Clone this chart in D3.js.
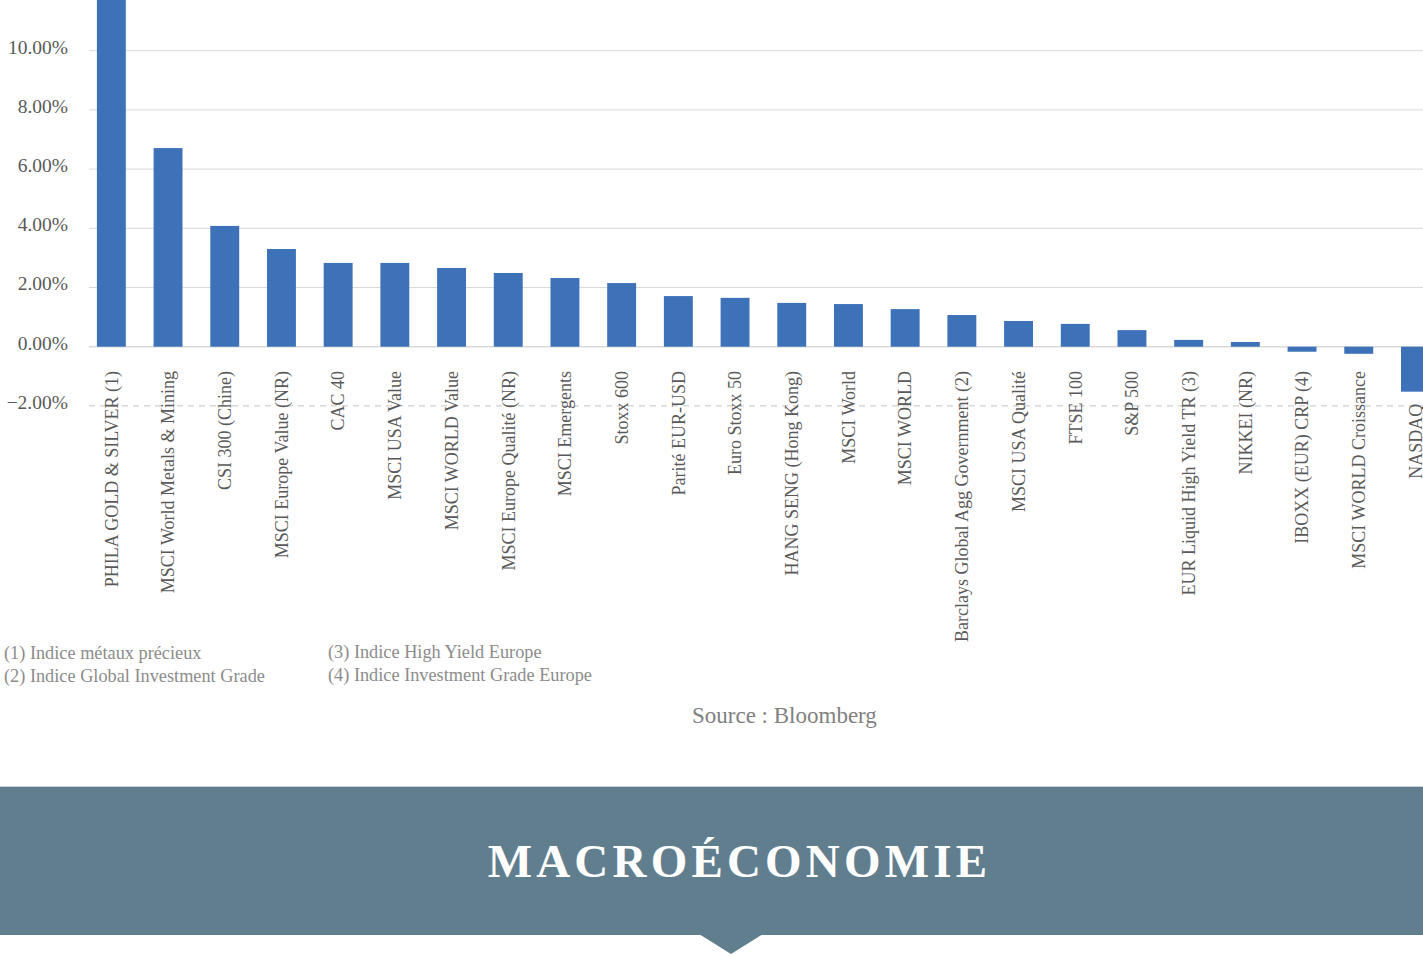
<!DOCTYPE html>
<html>
<head>
<meta charset="utf-8">
<script src="https://cdn.jsdelivr.net/npm/d3@7"></script>
<style>
  body { margin: 0; background: #fff; }
  svg { display: block; }
</style>
</head>
<body>
<svg id="chart" width="1423" height="956"></svg>
<script>
// categories and performance (%)
var categories = [
  "PHILA GOLD & SILVER (1)", "MSCI World Metals & Mining", "CSI 300 (Chine)",
  "MSCI Europe Value (NR)", "CAC 40", "MSCI  USA  Value", "MSCI WORLD Value",
  "MSCI Europe Qualité (NR)", "MSCI Emergents", "Stoxx 600", "Parité EUR-USD",
  "Euro Stoxx 50", "HANG SENG (Hong Kong)", "MSCI World", "MSCI WORLD",
  "Barclays Global Agg Government (2)", "MSCI USA Qualité", "FTSE 100", "S&P 500",
  "EUR Liquid High Yield TR (3)", "NIKKEI (NR)", "IBOXX (EUR) CRP (4)",
  "MSCI WORLD Croissance", "NASDAQ"
];
var values = [
  14.0, 6.71, 4.08, 3.30, 2.83, 2.83, 2.66, 2.49, 2.32, 2.15, 1.71, 1.65,
  1.48, 1.44, 1.27, 1.07, 0.87, 0.77, 0.56, 0.23, 0.16, -0.17, -0.24, -1.52
];
var yTicks = [-2, 0, 2, 4, 6, 8, 10];
var notesLeft = ["(1) Indice métaux précieux", "(2) Indice Global Investment Grade"];
var notesRight = ["(3) Indice High Yield Europe", "(4) Indice Investment Grade Europe"];
var source = "Source : Bloomberg";
var title = "MACROÉCONOMIE";

var svg = d3.select("#chart");
var serif = "'Liberation Serif', 'DejaVu Serif', serif";

var x = d3.scaleBand()
    .domain(categories)
    .range([83, 83 + 56.7 * categories.length])
    .paddingInner(0.49)
    .paddingOuter(0.245);

var y = d3.scaleLinear()
    .domain([0, 10])
    .range([346.7, 50.7]);

var chart = svg.append("g");

// gridlines
chart.selectAll("line.grid")
    .data(yTicks)
    .enter().append("line")
    .attr("class", "grid")
    .attr("x1", 89)
    .attr("x2", 1423)
    .attr("y1", function(d) { return y(d); })
    .attr("y2", function(d) { return y(d); })
    .attr("stroke", function(d) { return d < 0 ? "#c4c4c4" : "#d9d9d9"; })
    .attr("stroke-width", function(d) { return d === 0 ? 1.5 : 1; })
    .attr("stroke-dasharray", function(d) { return d < 0 ? "6,5" : null; });

// y tick labels
chart.selectAll("text.ytick")
    .data(yTicks)
    .enter().append("text")
    .attr("class", "ytick")
    .attr("x", 68)
    .attr("y", function(d) { return y(d) - 4; })
    .attr("dy", "0.35em")
    .attr("text-anchor", "end")
    .attr("font-family", serif)
    .attr("font-size", 19.5)
    .attr("fill", "#595959")
    .text(function(d) { return d3.format(".2f")(d) + "%"; });

// bars
chart.selectAll("rect.bar")
    .data(values)
    .enter().append("rect")
    .attr("class", "bar")
    .attr("x", function(d, i) { return x(categories[i]); })
    .attr("width", x.bandwidth())
    .attr("y", function(d) { return y(Math.max(0, d)); })
    .attr("height", function(d) { return Math.abs(y(d) - y(0)); })
    .attr("fill", "#3d72b9");

// category labels, rotated; a label starts below its bar when the bar reaches down into it
chart.selectAll("text.cat")
    .data(categories)
    .enter().append("text")
    .attr("class", "cat")
    .attr("transform", function(d, i) {
        var top = Math.max(371, y(values[i]) + 12);
        return "translate(" + (x(d) + x.bandwidth() / 2) + "," + top + ") rotate(-90)";
    })
    .attr("dy", "0.35em")
    .attr("text-anchor", "end")
    .attr("font-family", serif)
    .attr("font-size", 18)
    .attr("fill", "#595959")
    .text(function(d) { return d; });

// footnotes
var notes = svg.append("g")
    .attr("font-family", serif)
    .attr("font-size", 18.3)
    .attr("fill", "#8c8c8c");

notes.selectAll("text.nl")
    .data(notesLeft)
    .enter().append("text")
    .attr("x", 4)
    .attr("y", function(d, i) { return 659 + i * 23; })
    .text(function(d) { return d; });

notes.selectAll("text.nr")
    .data(notesRight)
    .enter().append("text")
    .attr("x", 328)
    .attr("y", function(d, i) { return 658 + i * 23; })
    .text(function(d) { return d; });

svg.append("text")
    .attr("x", 692)
    .attr("y", 723)
    .attr("font-family", serif)
    .attr("font-size", 23)
    .attr("fill", "#808080")
    .text(source);

// banner
svg.append("line")
    .attr("x1", 0).attr("x2", 1423)
    .attr("y1", 786.5).attr("y2", 786.5)
    .attr("stroke", "#c9d3d9");

svg.append("rect")
    .attr("x", 0).attr("y", 787)
    .attr("width", 1423).attr("height", 148)
    .attr("fill", "#617e8f");

svg.append("path")
    .attr("d", d3.line()([[699, 934], [763, 934], [731, 954]]))
    .attr("fill", "#617e8f");

svg.append("text")
    .attr("x", 739.5)
    .attr("y", 877)
    .attr("text-anchor", "middle")
    .attr("font-family", serif)
    .attr("font-size", 47)
    .attr("font-weight", "bold")
    .attr("letter-spacing", 4.2)
    .attr("fill", "#ffffff")
    .text(title);
</script>
</body>
</html>
